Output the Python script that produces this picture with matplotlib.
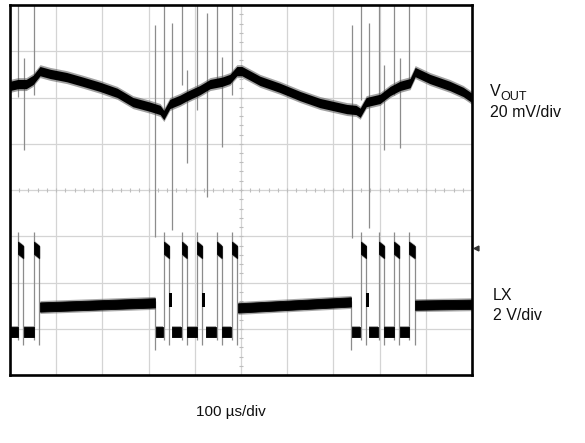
import matplotlib
matplotlib.use('Agg')
import matplotlib.pyplot as plt

plt.rcParams['font.family'] = ['Liberation Sans', 'DejaVu Sans']

# Time in µs (100 µs/div, 10 div), amplitude in screen divisions (8 div)
vout_t = [0, 17, 35, 50, 65, 87, 123, 158, 195, 232, 266, 303, 325, 333, 346, 368,
          383, 411, 433, 459, 476, 491, 502, 541, 584, 628, 671, 729, 749, 758, 771,
          801, 823, 844, 866, 877, 909, 952, 981, 1000]
vout_v = [6.25, 6.29, 6.29, 6.38, 6.57, 6.51, 6.44, 6.34, 6.23, 6.10, 5.90, 5.80, 5.73,
          5.62, 5.86, 5.95, 6.03, 6.16, 6.29, 6.34, 6.40, 6.57, 6.57, 6.36, 6.21, 6.03,
          5.88, 5.75, 5.73, 5.67, 5.90, 5.97, 6.14, 6.25, 6.31, 6.55, 6.40, 6.25, 6.12,
          5.99]

# LX trace segments: start time, end time, start level, end level
lx_t0 = [0, 17.3, 30.3, 51.9, 64.9,
         316.0, 333.3, 350.6, 372.3, 383.1, 404.8, 424.2, 448.1, 458.9, 480.5, 493.5,
         740.3, 759.7, 777.1, 798.7, 810.6, 831.2, 843.1, 863.6, 876.6]
lx_t1 = [17.3, 28.8, 51.9, 63.3, 313.9,
         331.2, 344.5, 370.1, 382.6, 403.7, 416.0, 445.9, 458.3, 479.4, 491.8, 738.1,
         757.6, 770.8, 796.5, 810.0, 830.1, 842.5, 862.6, 876.0, 1000]
lx_v0 = [0.93, 2.75, 0.93, 2.75, 1.47,
         0.93, 2.75, 0.93, 2.75, 0.93, 2.75, 0.93, 2.75, 0.93, 2.75, 1.45,
         0.93, 2.75, 0.93, 2.75, 0.93, 2.75, 0.93, 2.75, 1.51]
lx_v1 = [0.93, 2.66, 0.93, 2.66, 1.56,
         0.93, 2.66, 0.93, 2.66, 0.93, 2.66, 0.93, 2.66, 0.93, 2.66, 1.58,
         0.93, 2.66, 0.93, 2.66, 0.93, 2.66, 0.93, 2.66, 1.53]

# Ringing blocks after some falling edges: start, end, level
ring_t0 = [344.5, 416.2, 770.8]
ring_t1 = [350.2, 423.0, 776.8]
ring_v = [1.62, 1.62, 1.62]

# LX switching edges: time, top, bottom
edge_t = [17.3, 29.0, 51.9, 63.5, 314.5, 333.3, 344.8, 372.3, 382.5, 404.8, 416.0, 448.1,
          458.3, 480.5, 491.8, 739.0, 759.7, 770.8, 798.7, 810.0, 831.2, 842.5, 863.6, 876.0]
edge_top = [3.09, 2.80, 3.09, 2.80, 1.60, 3.09, 2.80, 3.09, 2.80, 3.09, 2.80, 3.09,
            2.80, 3.09, 2.80, 1.60, 3.09, 2.80, 3.09, 2.80, 3.09, 2.80, 3.09, 2.80]
edge_bot = [0.75, 0.65, 0.75, 0.65, 0.54, 0.75, 0.65, 0.75, 0.65, 0.75, 0.65, 0.75,
            0.65, 0.75, 0.65, 0.54, 0.75, 0.65, 0.75, 0.65, 0.75, 0.65, 0.75, 0.65]

# Coupled switching spikes on VOUT: time, top, bottom
spike_t = [17.3, 30.3, 51.9, 313.9, 333.3, 350.6, 372.3, 383.1, 404.8, 426.4, 448.1, 458.9,
           480.5, 740.3, 759.7, 777.1, 798.7, 809.5, 831.2, 844.2, 863.6]
spike_top = [8.0, 6.85, 8.0, 7.57, 8.0, 7.61, 8.0, 6.60, 8.0, 7.83, 8.0, 6.88,
             8.0, 7.57, 8.0, 7.61, 8.0, 6.70, 8.0, 6.85, 8.0]
spike_bot = [6.01, 4.87, 6.05, 2.98, 5.67, 3.14, 6.27, 4.58, 5.73, 3.85, 6.38, 4.93,
             6.05, 2.96, 5.95, 3.18, 6.05, 4.87, 6.05, 4.91, 6.27]

W, H = 585, 443
fig = plt.figure(figsize=(W / 100, H / 100), dpi=100)
ax = fig.add_axes([10 / W, 1 - 375 / H, 462 / W, 370 / H])
ax.set_xlim(0, 1000)
ax.set_ylim(0, 8)
ax.set_xticks([])
ax.set_yticks([])
for s in ax.spines.values():
    s.set_linewidth(1.9)
    s.set_color('black')
    s.set_zorder(10)

grid_c = '#d4d4d4'
for k in range(1, 10):
    ax.axvline(k * 100, color=grid_c, lw=0.9, zorder=0)
for k in range(1, 8):
    ax.axhline(k, color=grid_c, lw=0.9, zorder=0)
# center graticule minor ticks
mx = [i * 20 for i in range(1, 50)]
my = [i * 0.2 for i in range(1, 40)]
ax.plot(mx, [4] * len(mx), ls='none', marker='|', ms=3.5, mew=0.8, color='#bdbdbd', zorder=0)
ax.plot([500] * len(my), my, ls='none', marker='_', ms=3.5, mew=0.8, color='#bdbdbd', zorder=0)

# spikes
ax.vlines(spike_t, spike_bot, spike_top, color='#8c8c8c', lw=0.9, zorder=2)
ax.vlines(edge_t, edge_bot, edge_top, color='#8c8c8c', lw=0.9, zorder=2)

core = 0.10   # half-thickness of trace band (div)
halo = 0.14

# VOUT trace (thick noisy band)
ax.fill_between(vout_t, [v - halo for v in vout_v], [v + halo for v in vout_v],
                color='#555555', alpha=0.55, lw=0, zorder=3)
ax.fill_between(vout_t, [v - core for v in vout_v], [v + core for v in vout_v],
                color='black', lw=0, zorder=4)

# LX trace
for a, b, c, d in zip(lx_t0, lx_t1, lx_v0, lx_v1):
    hc = 0.13 if c > 2 else core
    hh = 0.16 if c > 2 else halo
    ax.fill_between([a, b], [c - hh, d - hh], [c + hh, d + hh],
                    color='#555555', alpha=0.5, lw=0, zorder=3)
    ax.fill_between([a, b], [c - hc, d - hc], [c + hc, d + hc],
                    color='black', lw=0.6, edgecolor='black', zorder=4)
for a, b, c in zip(ring_t0, ring_t1, ring_v):
    ax.fill_between([a, b], [c - 0.15, c - 0.15], [c + 0.15, c + 0.15],
                    color='black', lw=0, zorder=4)

# ground reference marker
ax.plot([1009], [2.75], marker='<', ms=3.5, color='#333333', clip_on=False, zorder=5)

def ftxt(x, y, s, **kw):
    fig.text(x / W, 1 - y / H, s, va='baseline', color='#111111', **kw)

ftxt(490, 96, 'V', fontsize=11.5)
ftxt(500.5, 100, 'OUT', fontsize=9)
ftxt(490, 117, '20 mV/div', fontsize=11.5)
ftxt(493, 300, 'LX', fontsize=11.5)
ftxt(493, 320, '2 V/div', fontsize=11.5)
ftxt(231, 416, '100 µs/div', fontsize=11, ha='center')

fig.savefig('out.png', dpi=100)
